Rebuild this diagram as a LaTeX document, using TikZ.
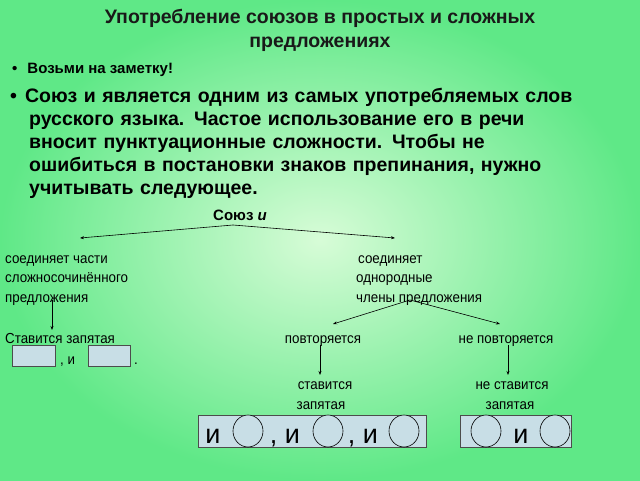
\documentclass[tikz,border=0pt]{standalone}
\usepackage{fontspec}
\setmainfont{Liberation Sans}
\usetikzlibrary{arrows.meta}
\definecolor{bggreen}{RGB}{95,232,135}
\definecolor{bglight}{RGB}{215,252,215}
\definecolor{boxblue}{RGB}{200,222,230}
\begin{document}
\begin{tikzpicture}[x=1pt,y=-1pt,
    small/.style={font=\fontsize{14.5}{14.5}\selectfont, anchor=base west, inner sep=0pt, xscale=0.92},
    big/.style={font=\fontsize{27}{27}\selectfont, anchor=base, inner sep=0pt},
    arrow/.style={-{Stealth[length=4pt,width=3pt]}, line width=0.6pt},
    blank/.style={draw=black!70, fill=boxblue, line width=0.6pt},
    circ/.style={draw=black, fill=boxblue, line width=0.6pt}
]
    % Background
    \shade[inner color=bglight, outer color=bggreen] (0,0) rectangle (640,480);
    \useasboundingbox (0,0) rectangle (640,480);

    % Title and bullets
    \node[font=\fontsize{19.5}{24}\selectfont\bfseries, align=center, text=black!90] (title) at (320,30)
        {Употребление союзов в простых и сложных\\предложениях};
    \node[font=\fontsize{15}{15}\selectfont\bfseries, anchor=base west, inner sep=0pt] (b1) at (12,73) {•\hspace{10pt}Возьми на заметку!};
    \node[font=\fontsize{19.5}{23}\selectfont\bfseries, anchor=north west, inner sep=0pt, align=left, text width=620pt] (b2) at (10,88)
        {•\hspace{8pt}Союз и является одним из самых употребляемых слов\\
        \hspace*{19pt}русского языка. Частое использование его в речи\\
        \hspace*{19pt}вносит пунктуационные сложности. Чтобы не\\
        \hspace*{19pt}ошибиться в постановки знаков препинания, нужно\\
        \hspace*{19pt}учитывать следующее.};

    % Tree
    \node[font=\fontsize{15}{15}\selectfont\bfseries, anchor=base, inner sep=0pt] (soyuz) at (240,220) {Союз \textit{и}};
    \coordinate (top) at (233,225);
    \coordinate (lt) at (80,238);
    \coordinate (rt) at (395,238);
    \draw[arrow] (top) -- (lt);
    \draw[arrow] (top) -- (rt);

    \node[small] (l1) at (5,263) {соединяет части};
    \node[small] (l2) at (5,282) {сложносочинённого};
    \node[small] (l3) at (5,302) {предложения};
    \node[small] (r1) at (358,263) {соединяет};
    \node[small] (r2) at (356,282) {однородные};
    \node[small] (r3) at (356,302) {члены  предложения};

    \coordinate (ls) at (52,300);
    \coordinate (le) at (52,330);
    \draw[arrow] (ls) -- (le);
    \node[small] (zap) at (5,343) {Ставится запятая};
    \node[blank, minimum width=43pt, minimum height=21pt, inner sep=0pt] (bx1) at (34,356) {};
    \node[small] (ci) at (60,364) {, и};
    \node[blank, minimum width=42pt, minimum height=21pt, inner sep=0pt] (bx2) at (109,356) {};
    \node[small] (dot) at (134,364) {.};

    \coordinate (rs) at (410,300);
    \coordinate (rl) at (333,324);
    \coordinate (rr) at (500,324);
    \draw[arrow] (rs) -- (rl);
    \draw[arrow] (rs) -- (rr);
    \node[small, anchor=base] (pov) at (323,343) {повторяется};
    \node[small, anchor=base] (npov) at (506,343) {не повторяется};

    \coordinate (ps) at (320,345);
    \coordinate (pe) at (320,375);
    \coordinate (ns) at (508,345);
    \coordinate (ne) at (508,375);
    \draw[arrow] (ps) -- (pe);
    \draw[arrow] (ns) -- (ne);
    \node[small, anchor=base] (st) at (325,389) {ставится};
    \node[small, anchor=base] (stz) at (321,409) {запятая};
    \node[small, anchor=base] (nst) at (512,389) {не ставится};
    \node[small, anchor=base] (nstz) at (510,409) {запятая};

    % Schemes
    \draw[draw=black!70, fill=boxblue, line width=0.6pt] (198,415) rectangle (426,447);
    \draw[draw=black!70, fill=boxblue, line width=0.6pt] (460,415) rectangle (571,447);
    \foreach \cx in {248,328,404,486,555}
        \draw[circ] (\cx,431) ellipse [x radius=15, y radius=16];
    \node[big] (i1) at (213,443) {и};
    \node[big] (i2) at (285,443) {, и};
    \node[big] (i3) at (363,443) {, и};
    \node[big] (i4) at (521,443) {и};
\end{tikzpicture}
\end{document}
